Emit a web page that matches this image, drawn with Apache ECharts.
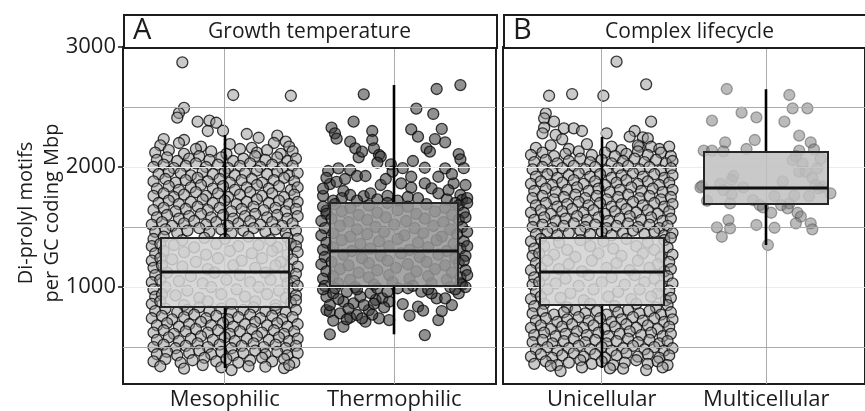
<!DOCTYPE html>
<html><head><meta charset="utf-8">
<script src="https://cdn.jsdelivr.net/npm/echarts@6/dist/echarts.min.js"></script>
<style>html,body{margin:0;padding:0;background:#fff}#c{width:865px;height:411px}</style>
</head><body><div id="c"></div>
<script>
// ---------------- DATA ----------------
const panelTags = ['A', 'B'];
const panelTitles = ['Growth temperature', 'Complex lifecycle'];
const categoriesA = ['Mesophilic', 'Thermophilic'];
const categoriesB = ['Unicellular', 'Multicellular'];
const yTickValues = [1000, 2000, 3000];
const yMinorGrid = [500, 1500, 2500];
const yAxisTitle = 'Di-prolyl motifs\nper GC coding Mbp';
// box stats: [lower whisker, Q1, median, Q3, upper whisker]
const boxMeso = [325, 833, 1125, 1411, 2267];
const boxThermo = [606, 1008, 1303, 1703, 2683];
const boxUni = [325, 850, 1125, 1411, 2250];
const boxMulti = [1350, 1692, 1822, 2127, 2648];
// jittered points as pairs: [horizontal jitter (hundredths of a category step), value]
const mesoJitter = [
-25,2872, 5,2600, 39,2594, -24,2492, -27,2450, -28,2411, -16,2378, -9,2386, -5,2369, -10,2300, -1,2302, 13,2275, 20,2244, 31,2261, 36,2211, -36,2233, -24,2225,
-38,2180, -27,2200, -14,2170, 3,2190, 16,2160, 29,2200, 38,2170,
-41,2120, -33,2140, -24,2110, -17,2150, -8,2130, 1,2110, 9,2150, 19,2120, 25,2140, 33,2110, 40,2130,
-40,2060, -34,2080, -28,2050, -21,2070, -15,2090, -9,2060, -2,2080, 5,2050, 11,2070, 18,2090, 24,2060, 31,2080, 37,2050, 42,2070,
-42,2000, -36,2020, -30,1990, -23,2010, -17,2030, -11,2000, -4,2020, 2,1990, 9,2010, 15,2030, 21,2000, 28,2020, 34,1990, 40,2010,
-39,1940, -33,1960, -26,1950, -20,1930, -13,1960, -7,1940, 0,1960, 6,1930, 12,1950, 19,1970, 25,1940, 31,1960, 38,1930, 43,1950,
-42,1880, -35,1900, -29,1870, -23,1890, -16,1910, -10,1880, -3,1900, 3,1870, 10,1890, 16,1900, 22,1870, 29,1890, 35,1910, 41,1880,
-40,1820, -33,1840, -27,1810, -20,1830, -14,1850, -7,1820, -1,1840, 6,1810, 13,1830, 19,1850, 26,1820, 32,1840, 39,1810, 43,1830,
-42,1760, -36,1780, -30,1750, -24,1770, -17,1790, -11,1760, -4,1780, 2,1750, 9,1770, 15,1790, 22,1760, 28,1780, 35,1750, 41,1770,
-39,1700, -33,1720, -27,1690, -20,1710, -13,1730, -7,1700, 0,1720, 7,1690, 13,1710, 19,1730, 26,1700, 32,1720, 38,1690, 43,1710,
-42,1640, -36,1660, -29,1630, -23,1650, -16,1670, -10,1640, -3,1660, 4,1630, 10,1650, 17,1670, 23,1640, 30,1660, 36,1630, 42,1650,
-40,1580, -34,1600, -27,1570, -21,1590, -14,1610, -8,1580, -1,1600, 5,1570, 12,1590, 18,1610, 25,1580, 31,1600, 37,1570, 43,1590,
-43,1520, -37,1540, -31,1510, -24,1530, -18,1550, -11,1520, -5,1540, 2,1510, 8,1530, 15,1550, 21,1520, 28,1540, 34,1510, 40,1530,
-41,1460, -35,1480, -28,1450, -22,1470, -15,1490, -9,1460, -2,1480, 4,1450, 11,1470, 17,1490, 24,1460, 30,1480, 36,1450, 42,1470,
-42,1400, -36,1420, -25,1390, -12,1410, 0,1400, 14,1420, 27,1390, 37,1410, 43,1400,
-43,1340, -38,1360, -30,1350, -18,1330, -5,1360, 8,1340, 20,1350, 31,1330, 39,1360, 42,1340,
-41,1280, -36,1300, -24,1290, -11,1270, 3,1300, 16,1280, 28,1300, 37,1270, 43,1290,
-43,1220, -38,1240, -31,1230, -17,1210, -4,1240, 10,1220, 22,1240, 33,1210, 40,1230,
-42,1160, -37,1180, -25,1170, -10,1150, 5,1180, 18,1160, 30,1180, 38,1150, 43,1170,
-41,1100, -34,1120, -20,1090, -6,1120, 9,1100, 24,1120, 36,1090, 42,1110,
-43,1040, -38,1060, -27,1050, -13,1030, 1,1060, 15,1040, 27,1060, 37,1030, 41,1050,
-42,980, -35,1000, -22,970, -8,1000, 7,980, 20,1000, 32,970, 40,990, 43,1010,
-41,920, -37,940, -29,930, -15,910, -2,940, 12,920, 25,940, 36,910, 42,930,
-43,860, -38,880, -24,850, -10,880, 4,860, 18,880, 30,850, 39,870, 42,890,
-41,800, -35,820, -28,790, -22,810, -15,830, -9,800, -2,820, 4,790, 11,810, 17,830, 24,800, 30,820, 36,790, 42,810,
-43,740, -37,760, -31,730, -24,750, -18,770, -11,740, -5,760, 2,730, 8,750, 15,770, 21,740, 28,760, 34,730, 40,750,
-40,680, -34,700, -27,670, -21,690, -14,710, -8,680, -1,700, 5,670, 12,690, 18,710, 25,680, 31,700, 37,670, 43,690,
-42,620, -36,640, -30,610, -23,630, -17,650, -10,620, -4,640, 3,610, 9,630, 16,650, 22,620, 29,640, 35,610, 41,630,
-40,560, -33,580, -27,550, -20,570, -14,590, -7,560, 0,580, 6,550, 13,570, 19,590, 26,560, 32,580, 38,550, 43,570,
-42,500, -36,520, -29,490, -23,510, -16,530, -10,500, -3,520, 4,490, 10,510, 17,530, 23,500, 30,520, 36,490, 42,510,
-40,440, -34,460, -28,430, -21,450, -15,470, -8,440, -2,460, 5,430, 11,450, 18,470, 24,440, 31,460, 37,430, 43,450,
-42,380, -35,400, -26,370, -19,390, -12,410, -5,380, 1,400, 8,370, 15,390, 22,410, 28,380, 35,400, 41,370,
-38,340, -24,320, -13,350, 4,308, -2,330, 14,340, 24,336, 35,325, 38,350
];
const thermoJitter = [
-18,2606, 25,2650, 39,2683, 13,2486, 23,2442, -37,2328, -24,2378, -35,2281, -34,2236, -13,2300, 10,2314, 14,2253, 28,2317, 24,2233, 30,2206, -26,2211, -23,2156, -21,2081, -19,2128, -13,2225, -12,2156, -9,2100, -8,2086, -10,2036, -2,2022, -1,1961, -39,1967, -33,1989, -26,1975, -22,1925, -17,1925, 11,2050, 18,1994, 30,1989, 26,1919, 35,1864, -38,1858, -34,1877, -30,1800, -26,1767, -18,1758, -14,1781, -8,1850, 10,1919, 10,1828, 18,1864, 22,1822, 26,1781, 39,1767, 40,1725, -40,1636, 32,1808, 4,1864, 19,2156, 21,2128, 38,2108, 39,2064,
-42,1760, -36,1720, -31,1740, -22,1720, -10,1730, -4,1760, 2,1720, 8,1750, 14,1740, 31,1730, 36,1700, 43,1740, 34,1940, 41,1990, -5,1900, -29,1900, 5,1990, -40,1910, 42,1850, -42,1820,
-42,1670, -35,1690, -26,1660, -15,1680, -4,1700, 8,1670, 19,1690, 30,1660, 38,1680, 43,1700,
-40,1610, -31,1630, -21,1600, -10,1620, 2,1640, 13,1610, 24,1630, 34,1600, 41,1620,
-43,1550, -37,1570, -27,1540, -16,1560, -5,1580, 7,1550, 18,1570, 29,1540, 38,1560, 42,1580,
-41,1490, -32,1510, -22,1480, -11,1500, 0,1520, 12,1490, 23,1510, 33,1480, 40,1500,
-43,1430, -36,1450, -26,1420, -16,1440, -6,1460, 6,1430, 17,1450, 28,1420, 37,1440, 43,1460,
-40,1370, -31,1390, -20,1360, -9,1380, 2,1400, 14,1370, 25,1390, 35,1360, 41,1380,
-42,1310, -36,1330, -25,1300, -14,1320, -3,1340, 9,1310, 20,1330, 31,1300, 39,1320, 43,1340,
-41,1250, -30,1270, -19,1240, -8,1260, 4,1280, 15,1250, 26,1270, 36,1240, 42,1260,
-43,1190, -37,1210, -27,1180, -15,1200, -4,1220, 8,1190, 19,1210, 30,1180, 38,1200, 41,1220,
-40,1130, -32,1150, -21,1120, -10,1140, 1,1160, 13,1130, 24,1150, 34,1120, 42,1140,
-42,1070, -36,1090, -26,1060, -15,1080, -3,1100, 9,1070, 20,1090, 31,1060, 39,1080, 43,1100,
-41,1010, -33,1030, -23,1000, -12,1020, -1,1040, 11,1010, 22,1030, 33,1000, 40,1020,
-38,606, 18,600, -30,669, -17,711, -9,739, -3,725, 9,761, 14,836, 17,803, 26,725, 28,800, 34,850, 25,906, 30,906, 22,947, 16,961, 5,858, -40,808, -38,794, -32,781, -26,747, -22,767, -19,739, -15,808, -11,892, -7,906, -3,878, -40,919, -36,947, -30,878, -24,864, -20,919, 39,1031, 38,947,
-42,980, -35,990, -28,960, -22,980, -14,950, -10,990, -4,960, 2,990, -38,850, -33,900, -27,820, -18,850, -12,860, -6,830, -36,720, -28,730, -13,770, 36,980, 42,1000, 8,990, 20,980
];
const uniJitter = [
9,2878, 27,2689, -32,2594, -18,2608, 1,2594, -34,2447, -35,2406, 30,2378, -29,2378, -35,2328, -36,2281, -23,2322, -17,2322, -12,2300, -28,2267, -24,2231, 3,2281, 20,2300, 17,2253, 25,2247, 28,2239, 30,2169, 23,2169,
-40,2160, -31,2180, -20,2150, -9,2190, 6,2170, 12,2140, 22,2180, 35,2150, 41,2170,
-43,2100, -36,2120, -29,2090, -22,2110, -14,2130, -6,2100, 2,2120, 8,2090, 15,2110, 22,2130, 28,2100, 36,2120, 42,2090,
-41,2040, -34,2060, -27,2030, -20,2050, -13,2070, -7,2040, 0,2060, 6,2030, 13,2050, 20,2070, 26,2040, 33,2060, 39,2030, 43,2050,
-42,1980, -36,2000, -30,1970, -24,1990, -17,2010, -10,1980, -4,2000, 3,1970, 10,1990, 16,2010, 23,1980, 29,2000, 36,1970, 42,1990,
-40,1920, -33,1940, -27,1910, -20,1930, -14,1950, -7,1920, -1,1940, 6,1910, 12,1930, 19,1950, 25,1920, 32,1940, 38,1910, 43,1930,
-43,1860, -37,1880, -30,1850, -24,1870, -17,1890, -11,1860, -4,1880, 2,1850, 9,1870, 15,1890, 22,1860, 28,1880, 35,1850, 41,1870,
-41,1800, -34,1820, -28,1790, -21,1810, -15,1830, -8,1800, -2,1820, 5,1790, 11,1810, 18,1830, 24,1800, 31,1820, 37,1790, 43,1810,
-42,1740, -36,1760, -29,1730, -23,1750, -16,1770, -10,1740, -3,1760, 3,1730, 10,1750, 16,1770, 23,1740, 29,1760, 36,1730, 42,1750,
-40,1680, -34,1700, -27,1670, -21,1690, -14,1710, -8,1680, -1,1700, 6,1670, 12,1690, 19,1710, 25,1680, 32,1700, 38,1670, 43,1690,
-43,1620, -37,1640, -31,1610, -24,1630, -18,1650, -11,1620, -5,1640, 2,1610, 8,1630, 15,1650, 21,1620, 28,1640, 34,1610, 41,1630,
-41,1560, -35,1580, -28,1550, -22,1570, -15,1590, -9,1560, -2,1580, 4,1550, 11,1570, 17,1590, 24,1560, 30,1580, 37,1550, 42,1570,
-42,1500, -36,1520, -30,1490, -23,1510, -17,1530, -10,1500, -4,1520, 3,1490, 9,1510, 16,1530, 22,1500, 29,1520, 35,1490, 40,1510,
-40,1440, -33,1460, -27,1430, -20,1450, -13,1470, -7,1440, 0,1460, 6,1430, 13,1450, 19,1470, 26,1440, 32,1460, 38,1430, 43,1450,
-43,1380, -37,1400, -26,1370, -13,1390, 1,1380, 15,1400, 28,1370, 38,1390, 42,1410,
-41,1320, -35,1340, -21,1310, -7,1340, 7,1320, 21,1340, 32,1310, 40,1330,
-42,1260, -38,1280, -29,1270, -16,1250, -2,1280, 12,1260, 25,1280, 36,1250, 43,1270,
-40,1200, -33,1220, -20,1190, -6,1220, 9,1200, 22,1220, 34,1190, 41,1210,
-43,1140, -37,1160, -26,1150, -12,1130, 3,1160, 17,1140, 29,1160, 38,1130, 42,1150,
-41,1080, -35,1100, -22,1070, -8,1100, 6,1080, 20,1100, 32,1070, 40,1090,
-42,1020, -38,1040, -28,1030, -14,1010, 0,1040, 14,1020, 26,1040, 36,1010, 43,1030,
-40,960, -33,980, -19,950, -5,980, 10,960, 23,980, 34,950, 41,970,
-43,900, -37,920, -25,910, -11,890, 4,920, 18,900, 30,920, 39,890, 42,910,
-41,840, -35,860, -21,830, -7,860, 8,840, 21,860, 33,830, 40,850,
-42,780, -36,800, -29,770, -23,790, -16,810, -10,780, -3,800, 3,770, 10,790, 16,810, 23,780, 29,800, 36,770, 42,790,
-40,720, -34,740, -27,710, -21,730, -14,750, -8,720, -1,740, 6,710, 12,730, 19,750, 25,720, 32,740, 38,710, 43,730,
-43,660, -37,680, -31,650, -24,670, -18,690, -11,660, -5,680, 2,650, 8,670, 15,690, 21,660, 28,680, 34,650, 41,670,
-41,600, -35,620, -28,590, -22,610, -15,630, -9,600, -2,620, 4,590, 11,610, 17,630, 24,600, 30,620, 37,590, 42,610,
-42,540, -36,560, -30,530, -23,550, -17,570, -10,540, -4,560, 3,530, 9,550, 16,570, 22,540, 29,560, 35,530, 40,550,
-40,480, -33,500, -27,470, -20,490, -14,510, -7,480, 0,500, 6,470, 13,490, 19,510, 26,480, 32,500, 38,470, 43,490,
-43,420, -37,440, -30,410, -24,430, -17,450, -11,420, -4,440, 2,410, 9,430, 15,450, 22,420, 28,440, 35,410, 41,430,
-41,360, -34,380, -27,350, -20,370, -13,390, -6,360, 0,380, 7,350, 14,370, 21,390, 28,360, 34,380, 40,350,
-31,344, -25,300, -12,330, 5,322, 13,320, 27,308, 37,330
];
const multiJitter = [
-24,2650, 14,2600, 16,2489, 25,2489, -15,2453, -6,2414, -33,2386, 11,2378, 20,2261, -25,2206, -7,2225, 27,2206, 29,2147, -38,2136, -33,2136, -26,2131, -12,2150, 20,2136, 16,2058, 22,2031, 31,1989, 20,1961, 24,1961, -20,1925, -21,1892, -39,1842, -40,1831, 34,1836, 39,1781, -26,1808, -21,1772, -22,1697, -36,1719, -8,1725, -4,1683, -2,1664, 5,1758, 9,1683, 14,1697, 17,1761, 26,1758, 32,1822, 3,1619, 13,1656, 19,1619, 21,1586, -23,1558, -30,1497, -22,1489, -27,1419, -6,1517, 5,1494, 18,1531, 27,1531, 28,1481, 1,1350,
18,2090, 33,2070, 10,1880, 28,1910, -28,1860, -14,1830, 30,1850
];

// ---------------- HELPERS ----------------
function toPoints(arr, center) {
  const out = [];
  for (let i = 0; i < arr.length; i += 2) out.push([center + arr[i] / 100, arr[i + 1]]);
  return out;
}
const FONT = '"Open Sans", "DejaVu Sans", sans-serif';
const TXT = '#1c1c1c';
const GRID_L = [123, 503], GRID_T = 47, GRID_W = 373, GRID_H = 337;

function axisX(idx, cats) {
  return {
    gridIndex: idx, type: 'value', min: 0.4, max: 2.6,
    axisLine: { show: false }, axisTick: { show: false }, splitLine: { show: false },
    axisLabel: {
      customValues: [1, 2], formatter: v => cats[Math.round(v) - 1] || '',
      fontFamily: FONT, fontSize: 22, color: TXT, margin: 5
    }
  };
}
function axisY(idx, showLabels) {
  return {
    gridIndex: idx, type: 'value', min: 192, max: 3000,
    axisLine: { show: false }, splitLine: { show: false },
    axisTick: { show: showLabels, customValues: yTickValues, length: 5, lineStyle: { color: TXT, width: 1.5 } },
    axisLabel: { show: showLabels, customValues: yTickValues, formatter: v => String(v),
      fontFamily: FONT, fontSize: 22, color: TXT, margin: 7 }
  };
}
function gridSeries(idx) {
  const data = [];
  yMinorGrid.forEach(v => data.push({ yAxis: v, lineStyle: { color: '#ababab', width: 1 } }));
  yTickValues.forEach(v => data.push({ yAxis: v, lineStyle: { color: '#ececec', width: 1 } }));
  [1, 2].forEach(v => data.push({ xAxis: v, lineStyle: { color: '#ababab', width: 1 } }));
  return {
    type: 'line', xAxisIndex: idx, yAxisIndex: idx, data: [], z: 1, silent: true,
    markLine: { silent: true, symbol: ['none', 'none'], label: { show: false }, animation: false,
      lineStyle: { type: 'solid' }, data: data }
  };
}
function scatterSeries(idx, center, arr, fill, stroke) {
  return {
    type: 'scatter', xAxisIndex: idx, yAxisIndex: idx, z: 2, silent: true,
    symbol: 'circle', symbolSize: 11,
    itemStyle: { color: fill, borderColor: stroke, borderWidth: 1.3, opacity: 1 },
    data: toPoints(arr, center)
  };
}
function boxSeries(idx, boxes, fills) {
  return {
    type: 'custom', xAxisIndex: idx, yAxisIndex: idx, z: 5, silent: true,
    data: boxes.map((b, i) => [i + 1].concat(b)),
    encode: { x: 0, y: [1, 2, 3, 4, 5] },
    renderItem: function (params, api) {
      const x = api.value(0);
      const lo = api.coord([x, api.value(1)]), q1 = api.coord([x, api.value(2)]),
            md = api.coord([x, api.value(3)]), q3 = api.coord([x, api.value(4)]),
            hi = api.coord([x, api.value(5)]);
      const half = Math.round(api.size([0.75, 0])[0] / 2);
      const cx = Math.round(q1[0]);
      const yq3 = Math.round(q3[1]), yq1 = Math.round(q1[1]), ymd = Math.round(md[1]);
      return { type: 'group', children: [
        { type: 'line', shape: { x1: cx, y1: yq3, x2: cx, y2: hi[1] }, style: { stroke: '#000', lineWidth: 2.6 } },
        { type: 'line', shape: { x1: cx, y1: yq1, x2: cx, y2: lo[1] }, style: { stroke: '#000', lineWidth: 2.6 } },
        { type: 'rect', shape: { x: cx - half, y: yq3, width: 2 * half, height: yq1 - yq3 },
          style: { fill: fills[params.dataIndex], stroke: '#262626', lineWidth: 2 } },
        { type: 'line', shape: { x1: cx - half, y1: ymd, x2: cx + half, y2: ymd }, style: { stroke: '#111', lineWidth: 3 } }
      ] };
    }
  };
}

const chart = echarts.init(document.getElementById('c'), null, { renderer: 'canvas' });
const lightFill = 'rgba(150,150,150,0.5)', lightStroke = 'rgba(10,10,10,0.8)';
const option = {
  animation: false,
  backgroundColor: '#ffffff',
  grid: [0, 1].map(i => ({ left: GRID_L[i], top: GRID_T, width: GRID_W, height: GRID_H,
    show: true, borderColor: '#1c1c1c', borderWidth: 2, backgroundColor: 'transparent' })),
  xAxis: [axisX(0, categoriesA), axisX(1, categoriesB)],
  yAxis: [axisY(0, true), axisY(1, false)],
  series: [
    gridSeries(0), gridSeries(1),
    scatterSeries(0, 1, mesoJitter, lightFill, lightStroke),
    scatterSeries(0, 2, thermoJitter, 'rgba(55,55,55,0.55)', 'rgba(10,10,10,0.8)'),
    scatterSeries(1, 1, uniJitter, lightFill, lightStroke),
    scatterSeries(1, 2, multiJitter, 'rgba(120,120,120,0.5)', 'rgba(80,80,80,0.5)'),
    boxSeries(0, [boxMeso, boxThermo], ['rgba(210,210,210,0.86)', 'rgba(150,150,150,0.86)']),
    boxSeries(1, [boxUni, boxMulti], ['rgba(210,210,210,0.86)', 'rgba(192,192,192,0.86)'])
  ],
  graphic: [
    ...[0, 1].map(i => ({ type: 'rect', left: GRID_L[i], top: 14, z: 10, silent: true,
      shape: { width: GRID_W, height: GRID_T - 14 }, style: { fill: '#fff', stroke: '#1c1c1c', lineWidth: 2 } })),
    ...[0, 1].map(i => ({ type: 'text', x: GRID_L[i] + 10, y: 31, z: 11, silent: true,
      style: { text: panelTags[i], fontFamily: FONT, fontSize: 29, fill: TXT, textVerticalAlign: 'middle', textAlign: 'left' } })),
    ...[0, 1].map(i => ({ type: 'text', x: GRID_L[i] + GRID_W / 2, y: 32, z: 11, silent: true,
      style: { text: panelTitles[i], fontFamily: FONT, fontSize: 21, fill: TXT, textVerticalAlign: 'middle', textAlign: 'center' } })),
    { type: 'text', x: 39, y: 213, rotation: Math.PI / 2, z: 11, silent: true,
      style: { text: yAxisTitle, fontFamily: FONT, fontSize: 20, lineHeight: 26, fill: TXT, textAlign: 'center', textVerticalAlign: 'middle' } }
  ]
};
chart.setOption(option);
</script>
</body></html>
